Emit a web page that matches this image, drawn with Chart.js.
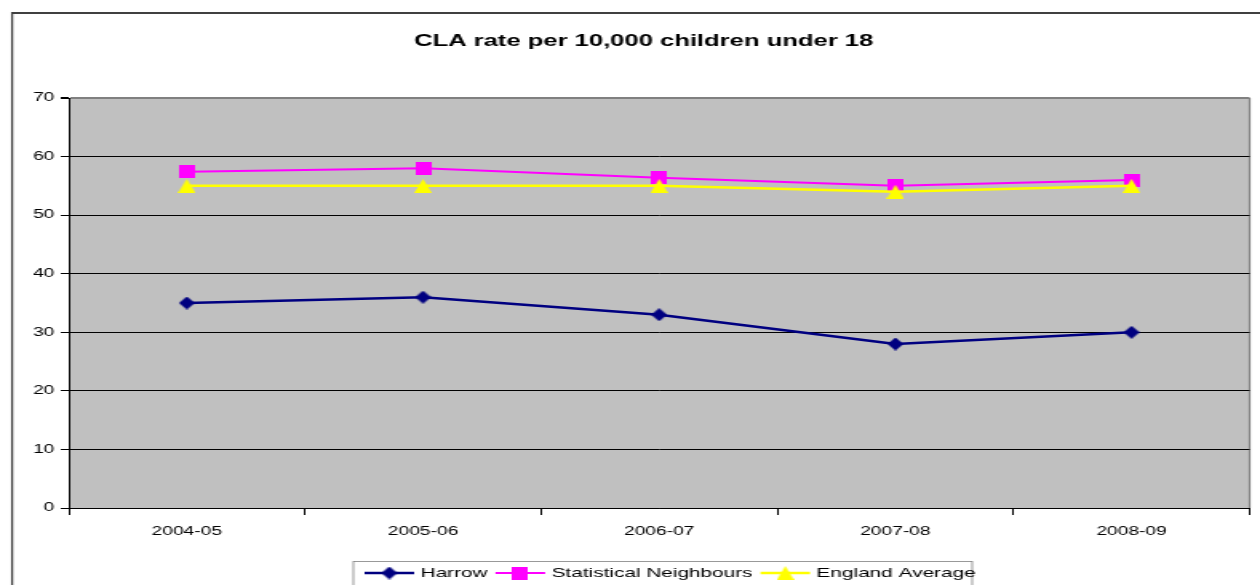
<!DOCTYPE html>
<html>
<head>
<meta charset="utf-8">
<script src="https://cdn.jsdelivr.net/npm/chart.js@4.4.1/dist/chart.umd.min.js"></script>
<style>
  html, body { margin: 0; padding: 0; background: #fff; }
  #chart { display: block; width: 1260px !important; height: 585px !important; }
</style>
</head>
<body>
<!-- drawn narrow and stretched sideways, like the original picture -->
<canvas id="chart" width="788" height="585"></canvas>
<script>
const titleText = 'CLA rate per 10,000 children under 18';
const categories = ['2004-05', '2005-06', '2006-07', '2007-08', '2008-09'];
const harrow = [35, 36, 33, 28, 30];
const statNeighbours = [57.4, 58, 56.4, 55, 56];
const englandAverage = [55, 55, 55, 54, 55];
const yMin = 0;
const yMax = 70;
const yStep = 10;

const fontFamily = "'Liberation Sans', Arial, sans-serif";

// small canvases used as point markers (squeezed to undo the stretch)
function makeMarker(shape, w, h, color) {
  const c = document.createElement('canvas');
  c.width = w;
  c.height = h;
  const g = c.getContext('2d');
  g.fillStyle = color;
  g.beginPath();
  if (shape === 'diamond') {
    g.moveTo(w / 2, 0); g.lineTo(w, h / 2); g.lineTo(w / 2, h); g.lineTo(0, h / 2);
  } else if (shape === 'triangle') {
    g.moveTo(w / 2, 0); g.lineTo(w, h); g.lineTo(0, h);
  } else {
    g.rect(0, 0, w, h);
  }
  g.closePath();
  g.fill();
  return c;
}

const chartFrame = {
  id: 'chartFrame',
  beforeDraw(chart) {
    const { ctx, chartArea: a } = chart;
    ctx.save();
    ctx.fillStyle = '#fff';
    ctx.fillRect(0, 0, chart.width, chart.height);
    ctx.fillStyle = '#c0c0c0';
    ctx.fillRect(a.left, a.top, a.right - a.left, a.bottom - a.top);
    ctx.strokeStyle = '#808080';
    ctx.lineWidth = 1.2;
    ctx.beginPath();
    ctx.moveTo(a.right, a.top);
    ctx.lineTo(a.right, a.bottom);
    ctx.stroke();
    // outer frame
    ctx.strokeStyle = '#404040';
    ctx.lineWidth = 2;
    ctx.beginPath();
    ctx.moveTo(7, 13);
    ctx.lineTo(chart.width + 2, 13);
    ctx.stroke();
    ctx.lineWidth = 1.25;
    ctx.beginPath();
    ctx.moveTo(7.6, 12);
    ctx.lineTo(7.6, chart.height + 2);
    ctx.stroke();
    // title, centred on the outer frame rather than the canvas
    ctx.fillStyle = '#000';
    ctx.font = 'bold 16px ' + fontFamily;
    ctx.textAlign = 'center';
    ctx.textBaseline = 'middle';
    ctx.fillText(titleText, 402.5, 42);
    ctx.restore();
  }
};

const lineLegend = {
  id: 'lineLegend',
  afterDraw(chart) {
    const ctx = chart.ctx;
    const left = 221, right = 608, top = 561.5;
    const y = 573;
    ctx.save();
    ctx.strokeStyle = '#808080';
    ctx.lineWidth = 0.8;
    ctx.strokeRect(left, top, right - left, 40);
    ctx.font = '13px ' + fontFamily;
    ctx.textBaseline = 'middle';
    let x = left + 7;
    [0, 1, 2].forEach(i => {
      const ds = chart.data.datasets[i];
      ctx.strokeStyle = ds.borderColor;
      ctx.lineWidth = ds.borderWidth;
      ctx.beginPath();
      ctx.moveTo(x, y);
      ctx.lineTo(x + 31, y);
      ctx.stroke();
      const img = ds.pointStyle;
      ctx.drawImage(img, x + 15.5 - img.width / 2, y - img.height / 2);
      x += 35;
      ctx.fillStyle = '#000';
      ctx.fillText(ds.label, x, y);
      x += ctx.measureText(ds.label).width + 5;
    });
    ctx.restore();
  }
};

const ctx = document.getElementById('chart').getContext('2d');

new Chart(ctx, {
  type: 'line',
  data: {
    labels: categories,
    datasets: [
      {
        label: 'Harrow',
        data: harrow,
        borderColor: '#000080',
        borderWidth: 2.5,
        pointStyle: makeMarker('diamond', 10, 13, '#000080'),
        order: 3
      },
      {
        label: 'Statistical Neighbours',
        data: statNeighbours,
        borderColor: '#ff00ff',
        borderWidth: 2,
        pointStyle: makeMarker('square', 10, 13, '#ff00ff'),
        order: 2
      },
      {
        label: 'England Average',
        data: englandAverage,
        borderColor: '#ffff00',
        borderWidth: 2.5,
        pointStyle: makeMarker('triangle', 11, 14, '#ffff00'),
        order: 1
      }
    ]
  },
  options: {
    responsive: false,
    animation: false,
    events: [],
    layout: { padding: { left: 0, right: 1, top: 98, bottom: 0 } },
    elements: { line: { tension: 0 } },
    plugins: {
      legend: { display: false },
      tooltip: { enabled: false },
      title: { display: false }
    },
    scales: {
      x: {
        offset: true,
        grid: { offset: true, drawOnChartArea: false, color: '#000', tickLength: 7 },
        border: { color: '#000', width: 1 },
        ticks: { color: '#000', font: { family: fontFamily, size: 12 }, padding: 9, maxRotation: 0 },
        afterFit(scale) { scale.height = 77; }
      },
      y: {
        min: yMin,
        max: yMax,
        ticks: { stepSize: yStep, color: '#000', font: { family: fontFamily, size: 12 }, padding: 4 },
        grid: {
          color: c => (c.tick && c.tick.value === yMax ? '#808080' : '#000'),
          lineWidth: c => (c.tick && c.tick.value === yMax ? 2 : 1),
          tickColor: '#000',
          tickLength: 5
        },
        border: { color: '#000', width: 1 },
        afterFit(scale) { scale.width = 43; }
      }
    }
  },
  plugins: [chartFrame, lineLegend]
});
</script>
</body>
</html>
